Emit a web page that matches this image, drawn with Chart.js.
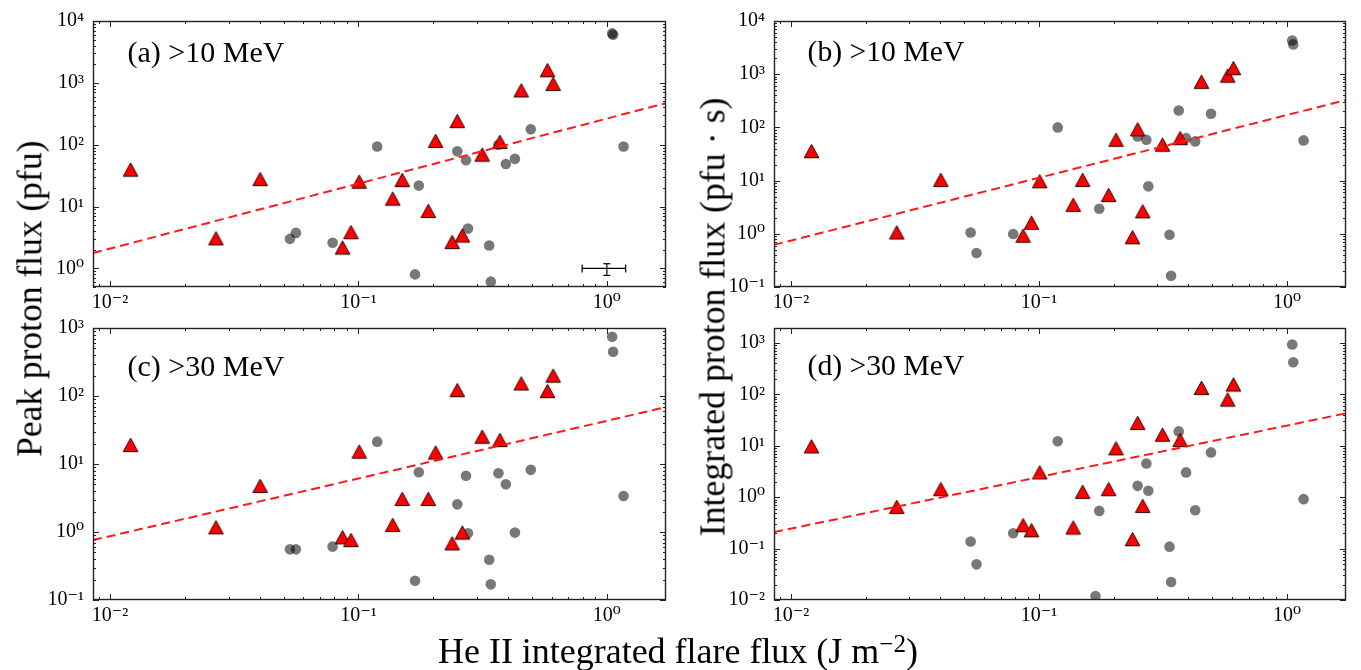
<!DOCTYPE html>
<html><head><meta charset="utf-8">
<script src="https://cdn.jsdelivr.net/npm/chart.js@4.4.1/dist/chart.umd.min.js"></script>
<style>
html,body{margin:0;padding:0;background:#fff;}
#wrap{position:relative;width:1361px;height:670px;overflow:hidden;background:#fff;}
canvas.pl{position:absolute;left:0;top:0;}
.lbl{position:absolute;white-space:nowrap;font-family:"Liberation Serif","DejaVu Serif",serif;color:#000;line-height:1;}
.lbl sup{font-size:0.7em;vertical-align:0.45em;line-height:0;}
</style></head><body>
<div id="wrap">
<canvas id="ca" class="pl" width="1361" height="670"></canvas>
<canvas id="cb" class="pl" width="1361" height="670"></canvas>
<canvas id="cc" class="pl" width="1361" height="670"></canvas>
<canvas id="cd" class="pl" width="1361" height="670"></canvas>
<div class="lbl" id="ta">(a) &gt;10 MeV</div>
<div class="lbl" id="tb">(b) &gt;10 MeV</div>
<div class="lbl" id="tc">(c) &gt;30 MeV</div>
<div class="lbl" id="td">(d) &gt;30 MeV</div>
<div class="lbl" id="yl1">Peak proton flux (pfu)</div>
<div class="lbl" id="yl2">Integrated proton flux (pfu · s)</div>
<div class="lbl" id="xl">He II integrated flare flux (J m<sup>−2</sup>)</div>
</div>
<script>
// ---------------- data ----------------
// He II integrated flare flux (J m^-2) for events marked with red triangles
const xTri = [0.0121, 0.0267, 0.0402, 0.0863, 0.0933, 0.1007, 0.1374, 0.150, 0.191, 0.2045, 0.2384, 0.250, 0.262, 0.315, 0.371, 0.452, 0.577, 0.608];
const aTri = [39.5, 3.06, 27.8, 2.17, 3.85, 25.2, 13.4, 26.8, 8.47, 115, 2.67, 241, 3.4, 69, 111, 754, 1600, 962];
const bTri = [35.8, 1.06, 10.3, 0.92, 1.61, 9.7, 3.5, 10.3, 5.35, 58.5, 0.86, 92, 2.64, 47.3, 62.8, 719, 938, 1298];
const cTri = [19.0, 1.17, 4.75, 0.835, 0.76, 15.2, 1.27, 3.06, 3.06, 14.7, 0.68, 122, 0.98, 25.2, 22.5, 153, 118, 199];
const dTri = [9.7, 0.647, 1.43, 0.285, 0.227, 3.03, 0.257, 1.27, 1.43, 8.9, 0.152, 27.7, 0.677, 16.4, 12.9, 133, 79, 155];
// events marked with gray circles
const xCir = [0.053, 0.056, 0.0787, 0.119, 0.169, 0.175, 0.250, 0.271, 0.276, 0.336, 0.341, 0.366, 0.392, 0.4265, 0.494, 1.05, 1.06, 1.167];
const aCir = [3.0, 3.75, 2.6, 93.6, 0.80, 21.8, 78, 56, 4.4, 2.34, 0.61, 100, 48.6, 59, 178, 6300, 6000, 93.6];
const bCir = [1.06, 0.435, 0.99, 100, null, 2.96, 67.5, 58.5, 7.8, 0.96, 0.163, 208, 62.8, 54.6, 181, 4300, 3630, 57];
const cCir = [0.556, 0.556, 0.61, 21.3, 0.192, 7.55, 2.55, 6.73, 0.955, 0.39, 0.17, 7.3, 5.03, 0.98, 8.2, 745, 448, 3.38];
const dCir = [0.137, 0.0494, 0.199, 12.2, 0.0119, 0.54, 1.66, 4.53, 1.33, 0.109, 0.0224, 19, 3.03, 0.558, 7.43, 930, 422, 0.914];
// fitted power-law lines (end points at the x-axis limits)
const fitX = [0.00854, 1.73];
const fitA = [1.77, 470];
const fitB = [0.62, 326];
const fitC = [0.76, 68.7];
const fitD = [0.209, 42.8];
// typical error bar shown in panel (a)
const errCenter = [1.0, 1.0];
const errXRange = [0.795, 1.19];
const errYRange = [0.77, 1.19];
// axis limits and tick labels
const xRange = [0.00854, 1.73];
const xTicks = [0.01, 0.1, 1];
const yRangeA = [0.5, 10000];
const yRangeB = [0.1, 10000];
const yRangeC = [0.1, 1000];
const yRangeD = [0.01, 1950];
const yTicksA = [1, 10, 100, 1000, 10000];
const yTicksB = [0.1, 1, 10, 100, 1000, 10000];
const yTicksC = [0.1, 1, 10, 100, 1000];
const yTicksD = [0.01, 0.1, 1, 10, 100, 1000];

// ---------------- helpers ----------------
const SUP = {'-':'\u207B','0':'\u2070','1':'\u00B9','2':'\u00B2','3':'\u00B3','4':'\u2074','5':'\u2075','6':'\u2076','7':'\u2077','8':'\u2078','9':'\u2079'};
function powLabel(v){
  const e = Math.round(Math.log10(v));
  return '10' + String(e).split('').map(c=>SUP[c]).join('');
}
function pts(xs, ys){
  const out=[]; xs.forEach((x,i)=>{ if(ys[i]!=null) out.push({x:x, y:ys[i]}); }); return out;
}
function triImg(){
  const c=document.createElement('canvas'); c.width=17; c.height=16;
  const g=c.getContext('2d');
  g.beginPath(); g.moveTo(8.5,1.2); g.lineTo(1.2,14.6); g.lineTo(15.8,14.6); g.closePath();
  g.fillStyle='#ff0000'; g.fill(); g.lineWidth=1; g.strokeStyle='#2b0000'; g.stroke();
  return c;
}
const TRI = triImg();

const frameTicks = {
  id:'frameTicks',
  afterDraw(chart){
    const ctx=chart.ctx, a=chart.chartArea, xs=chart.scales.x, ys=chart.scales.y;
    ctx.save();
    ctx.strokeStyle='#222'; ctx.lineWidth=1;
    ctx.beginPath();
    const mk=(s,horiz)=>{
      const lo=Math.floor(Math.log10(s.min)), hi=Math.ceil(Math.log10(s.max));
      for(let k=lo;k<=hi;k++) for(let m=1;m<=9;m++){
        const v=m*Math.pow(10,k);
        if(v<s.min*0.9999||v>s.max*1.0001) continue;
        const p=Math.round(s.getPixelForValue(v))+0.5;
        const L=m===1?6:3;
        if(horiz){ctx.moveTo(p,a.bottom);ctx.lineTo(p,a.bottom-L);ctx.moveTo(p,a.top);ctx.lineTo(p,a.top+L);}
        else{ctx.moveTo(a.left,p);ctx.lineTo(a.left+L,p);ctx.moveTo(a.right,p);ctx.lineTo(a.right-L,p);}
      }
    };
    mk(xs,true); mk(ys,false);
    ctx.stroke();
    ctx.lineWidth=1.4; ctx.strokeStyle='#222';
    ctx.strokeRect(a.left+0.5,a.top+0.5,a.right-a.left-1,a.bottom-a.top-1);
    ctx.restore();
  }
};

const TICKFONT={family:'"Liberation Serif","DejaVu Serif",serif', size:20};

function makePanel(id, pad, yRange, yTicks, triY, cirY, fitY, withErr){
  const ds=[
    {label:'fit', data: pts(fitX, fitY), showLine:true, pointRadius:0, borderColor:'#ff1a1a', borderWidth:2, borderDash:[9,5], order:0, clip:0},
    {label:'tri', data: pts(xTri, triY), pointStyle:TRI, pointRadius:7, order:1, clip:0},
    {label:'cir', data: pts(xCir, cirY), pointStyle:'circle', pointRadius:5.3, backgroundColor:'rgba(0,0,0,0.53)', borderWidth:0, order:2, clip:0}
  ];
  if(withErr){
    ds.push({label:'errx', data: pts(errXRange, [errCenter[1], errCenter[1]]), showLine:true, borderColor:'#000', borderWidth:1.2,
      pointStyle:'line', pointRadius:4, pointRotation:90, pointBorderColor:'#000', pointBorderWidth:1.2, order:3});
    ds.push({label:'erry', data: pts([errCenter[0], errCenter[0]], errYRange), showLine:true, borderColor:'#000', borderWidth:1.2,
      pointStyle:'line', pointRadius:3.5, pointRotation:0, pointBorderColor:'#000', pointBorderWidth:1.2, order:3});
  }
  return new Chart(document.getElementById(id), {
    type:'scatter',
    data:{datasets:ds},
    options:{
      responsive:false, animation:false, events:[],
      layout:{padding:pad},
      plugins:{legend:{display:false}, tooltip:{enabled:false}},
      scales:{
        x:{type:'logarithmic', min:xRange[0], max:xRange[1],
           grid:{display:false, drawTicks:false}, border:{display:false},
           afterBuildTicks:s=>{s.ticks=xTicks.map(v=>({value:v}));},
           afterFit:s=>{s.height=30;},
           ticks:{font:TICKFONT, color:'#000', padding:4, maxRotation:0, autoSkip:false, callback:v=>powLabel(v)}},
        y:{type:'logarithmic', min:yRange[0], max:yRange[1],
           grid:{display:false, drawTicks:false}, border:{display:false},
           afterBuildTicks:s=>{s.ticks=yTicks.map(v=>({value:v}));},
           afterFit:s=>{s.width=60;},
           ticks:{font:TICKFONT, color:'#000', padding:9, autoSkip:false, callback:v=>powLabel(v)}}
      }
    },
    plugins:[frameTicks]
  });
}
// chart areas: (a) 93-666 x 15-287, (b) 774-1346 x 15-287, (c) 93-666 x 328-600, (d) 774-1346 x 328-600
makePanel('ca', {left:33, top:15, right:695, bottom:353}, yRangeA, yTicksA, aTri, aCir, fitA, true);
makePanel('cb', {left:714, top:15, right:15, bottom:353}, yRangeB, yTicksB, bTri, bCir, fitB, false);
makePanel('cc', {left:33, top:328, right:695, bottom:40}, yRangeC, yTicksC, cTri, cCir, fitC, false);
makePanel('cd', {left:714, top:328, right:15, bottom:40}, yRangeD, yTicksD, dTri, dCir, fitD, false);

// ---------------- text placement ----------------
function place(id, cx, cy, w, rot){
  const el=document.getElementById(id);
  el.style.fontSize='100px';
  const w0=el.offsetWidth;
  el.style.fontSize=(100*w/w0).toFixed(2)+'px';
  const ow=el.offsetWidth, oh=el.offsetHeight;
  el.style.left=(cx-ow/2)+'px'; el.style.top=(cy-oh/2)+'px';
  if(rot) el.style.transform='rotate(-90deg)';
}
place('ta', 206, 52, 157, false);
place('tb', 886, 52, 157, false);
place('tc', 206, 366, 157, false);
place('td', 886, 366, 157, false);
place('yl1', 30, 298, 316, true);
place('yl2', 713, 317, 439, true);
place('xl', 678, 652, 480, false);
</script>
</body></html>
